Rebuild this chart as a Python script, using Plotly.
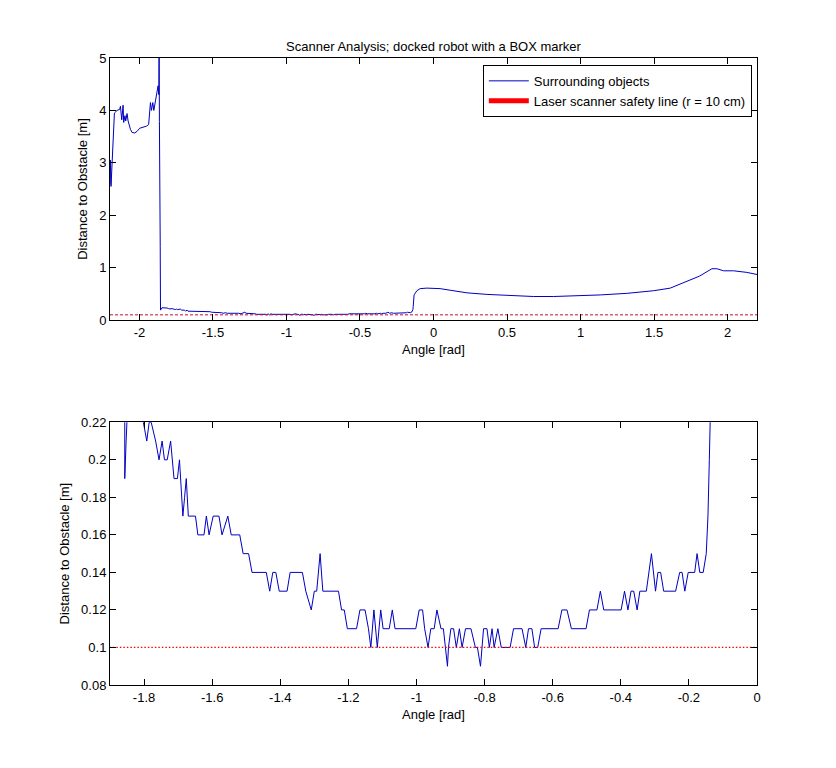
import plotly.graph_objects as go
from plotly.subplots import make_subplots

# scan readings: angle [rad] -> distance [m]
angle = [
    -2.200, -2.197, -2.193, -2.186, -2.179, -2.170, -2.152, -2.134, -2.129, -2.120,
    -2.111, -2.107, -2.098, -2.093, -2.084, -2.077, -2.061, -2.050, -2.032, -2.016,
    -1.998, -1.975, -1.952, -1.937, -1.925, -1.918, -1.909, -1.902, -1.891, -1.880,
    -1.873, -1.868, -1.866, -1.864, -1.8585,
    -1.8566, -1.8527, -1.8468, -1.834, -1.812, -1.802, -1.798, -1.792, -1.785, -1.779,
    -1.766, -1.756, -1.747, -1.740, -1.732, -1.722, -1.712, -1.702, -1.696, -1.693,
    -1.686, -1.681, -1.676, -1.670, -1.649, -1.642, -1.624, -1.617, -1.609, -1.597,
    -1.580, -1.571, -1.554, -1.544, -1.519, -1.509, -1.493, -1.483, -1.441, -1.431,
    -1.422, -1.413, -1.403, -1.380, -1.371, -1.335, -1.325, -1.309, -1.300, -1.293,
    -1.283, -1.275, -1.229, -1.220, -1.212, -1.203, -1.176, -1.166, -1.151, -1.141,
    -1.134, -1.125, -1.115, -1.105, -1.098, -1.080, -1.071, -1.063, -1.002, -0.992,
    -0.982, -0.976, -0.966, -0.958, -0.948, -0.940, -0.928, -0.921, -0.909, -0.906,
    -0.899, -0.891, -0.883, -0.874, -0.866, -0.856, -0.840, -0.827, -0.821, -0.812,
    -0.803, -0.793, -0.786, -0.778, -0.772, -0.761, -0.751, -0.725, -0.715, -0.690,
    -0.679, -0.671, -0.661, -0.653, -0.644, -0.634, -0.584, -0.573, -0.558, -0.545,
    -0.502, -0.492, -0.470, -0.460, -0.450, -0.399, -0.389, -0.379, -0.370, -0.362,
    -0.352, -0.344, -0.325, -0.310, -0.298, -0.291, -0.283, -0.274, -0.239, -0.227,
    -0.220, -0.212, -0.202, -0.183, -0.176, -0.168, -0.158, -0.149, -0.144, -0.140,
    -0.138, -0.132, -0.113, -0.091, -0.045, 0.000, 0.045, 0.113, 0.227, 0.363,
    0.499, 0.680, 0.816, 1.000, 1.134, 1.315, 1.497, 1.610, 1.700, 1.810,
    1.893, 1.927, 1.973, 2.041, 2.130, 2.200,
]
distance = [
    2.60, 3.05, 2.55, 3.00, 3.60, 3.95, 4.00, 4.02, 4.08, 3.82,
    4.10, 3.77, 3.90, 3.80, 3.94, 3.80, 3.64, 3.58, 3.57, 3.60,
    3.66, 3.68, 3.70, 3.73, 4.15, 4.00, 4.15, 4.00, 4.20, 4.35,
    4.47, 4.30, 5.30, 3.79, 1.40,
    0.19, 0.21, 0.235, 0.235, 0.23, 0.22, 0.215, 0.21, 0.22, 0.22,
    0.21, 0.20, 0.21, 0.20, 0.20, 0.21, 0.19, 0.19, 0.20, 0.19,
    0.17, 0.18, 0.19, 0.17, 0.17, 0.16, 0.16, 0.17, 0.16, 0.17,
    0.17, 0.16, 0.17, 0.16, 0.16, 0.15, 0.15, 0.14, 0.14, 0.13,
    0.14, 0.14, 0.13, 0.13, 0.14, 0.14, 0.13, 0.12, 0.13, 0.13,
    0.15, 0.13, 0.13, 0.12, 0.12, 0.11, 0.11, 0.12, 0.12, 0.11,
    0.10, 0.12, 0.10, 0.12, 0.11, 0.11, 0.12, 0.11, 0.11, 0.12,
    0.12, 0.11, 0.10, 0.11, 0.11, 0.12, 0.11, 0.11, 0.09, 0.10,
    0.11, 0.11, 0.10, 0.11, 0.10, 0.11, 0.11, 0.10, 0.10, 0.09,
    0.11, 0.11, 0.10, 0.11, 0.10, 0.11, 0.10, 0.10, 0.11, 0.11,
    0.10, 0.11, 0.11, 0.10, 0.10, 0.11, 0.11, 0.12, 0.12, 0.11,
    0.11, 0.12, 0.12, 0.13, 0.12, 0.12, 0.13, 0.12, 0.13, 0.13,
    0.12, 0.13, 0.13, 0.15, 0.13, 0.14, 0.14, 0.13, 0.13, 0.14,
    0.14, 0.13, 0.14, 0.14, 0.15, 0.14, 0.14, 0.15, 0.17, 0.20,
    0.26, 0.48, 0.56, 0.60, 0.61, 0.61, 0.60, 0.57, 0.52, 0.49,
    0.47, 0.45, 0.45, 0.465, 0.48, 0.51, 0.56, 0.61, 0.71, 0.84,
    0.98, 0.98, 0.94, 0.94, 0.91, 0.87,
]

# safety line r = 10 cm
safety_x = [-2.2, 2.2]
safety_y = [0.1, 0.1]

top_xticks = [-2, -1.5, -1, -0.5, 0, 0.5, 1, 1.5, 2]
top_xlabels = ["-2", "-1.5", "-1", "-0.5", "0", "0.5", "1", "1.5", "2"]
top_yticks = [0, 1, 2, 3, 4, 5]
bot_xticks = [-1.8, -1.6, -1.4, -1.2, -1, -0.8, -0.6, -0.4, -0.2, 0]
bot_xlabels = ["-1.8", "-1.6", "-1.4", "-1.2", "-1", "-0.8", "-0.6", "-0.4", "-0.2", "0"]
bot_yticks = [0.08, 0.1, 0.12, 0.14, 0.16, 0.18, 0.2, 0.22]
bot_ylabels = ["0.08", "0.1", "0.12", "0.14", "0.16", "0.18", "0.2", "0.22"]

BLUE = "#0000c0"

fig = make_subplots(rows=2, cols=1)

fig.add_trace(go.Scatter(x=angle, y=distance, mode="lines", name="Surrounding objects",
                         line=dict(color=BLUE, width=1)), row=1, col=1)
fig.add_trace(go.Scatter(x=safety_x, y=safety_y, mode="lines", showlegend=False,
                         line=dict(color="#c8102e", width=1, dash="3px,2px")), row=1, col=1)
# legend entry only (thick sample like the original)
fig.add_trace(go.Scatter(x=[None], y=[None], mode="lines",
                         name="Laser scanner safety line (r = 10 cm)",
                         line=dict(color="#ff0000", width=5)), row=1, col=1)

fig.add_trace(go.Scatter(x=angle, y=distance, mode="lines", showlegend=False,
                         line=dict(color=BLUE, width=1)), row=2, col=1)
fig.add_trace(go.Scatter(x=safety_x, y=safety_y, mode="lines", showlegend=False,
                         line=dict(color="#ff0000", width=1.3, dash="1.5px,2px")), row=2, col=1)

axis_style = dict(showline=True, linecolor="black", linewidth=1, mirror="ticks",
                  ticks="inside", ticklen=6, tickcolor="black", showgrid=False,
                  zeroline=False, tickfont=dict(size=13, color="black"))

fig.update_xaxes(axis_style)
fig.update_yaxes(axis_style)

fig.update_xaxes(range=[-2.2, 2.2], tickvals=top_xticks, ticktext=top_xlabels,
                 title=dict(text="Angle [rad]", standoff=6, font=dict(size=13)),
                 domain=[0, 1], row=1, col=1)
fig.update_yaxes(range=[0, 5], tickvals=top_yticks,
                 title=dict(text="Distance to Obstacle [m]", standoff=8, font=dict(size=13)),
                 domain=[0.582, 1.0], row=1, col=1)
fig.update_xaxes(range=[-1.9, 0], tickvals=bot_xticks, ticktext=bot_xlabels,
                 title=dict(text="Angle [rad]", standoff=6, font=dict(size=13)),
                 domain=[0, 1], row=2, col=1)
fig.update_yaxes(range=[0.08, 0.22], tickvals=bot_yticks, ticktext=bot_ylabels,
                 title=dict(text="Distance to Obstacle [m]", standoff=8, font=dict(size=13)),
                 domain=[0, 0.419], row=2, col=1)

# page body has an 8px margin, so margins are shifted by 8px
fig.update_layout(
    width=836, height=768,
    margin=dict(l=102, r=87, t=50, b=91),
    paper_bgcolor="white", plot_bgcolor="white",
    font=dict(family="Liberation Sans, Arial, sans-serif", size=13, color="black"),
    title=dict(text="Scanner Analysis; docked robot with a BOX marker",
               xref="paper", x=0.5, xanchor="center", y=1 - 38 / 768, yanchor="middle",
               font=dict(size=13)),
    legend=dict(x=0.992, y=0.989, xanchor="right", yanchor="top",
                bordercolor="black", borderwidth=1, bgcolor="white",
                font=dict(size=13), tracegroupgap=0, itemwidth=40),
    showlegend=True,
)

fig.write_html("out.html")
